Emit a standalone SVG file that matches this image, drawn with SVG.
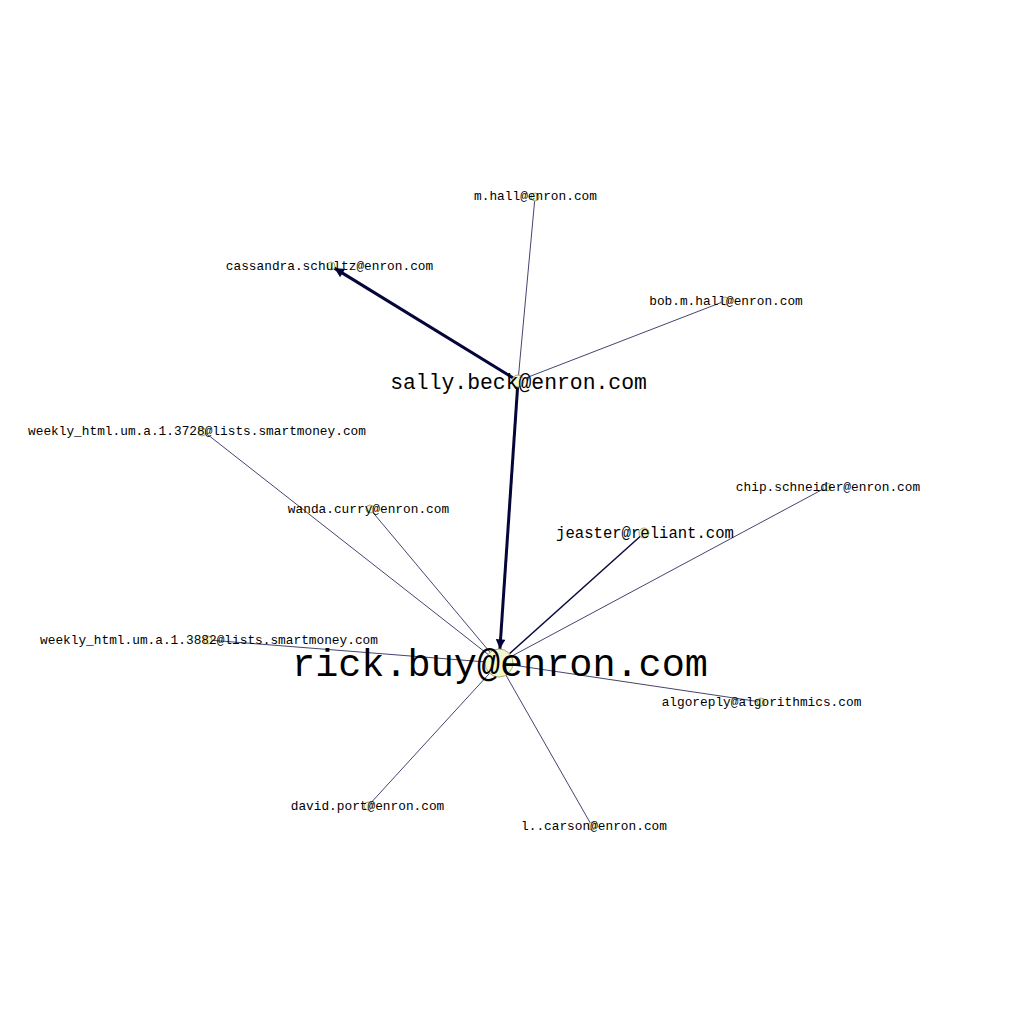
<svg xmlns="http://www.w3.org/2000/svg" width="1024" height="1024" viewBox="0 0 1024 1024">
<style>
.e{stroke:#14144a;stroke-width:0.8;fill:none}
.em{stroke:#0c0c40;stroke-width:1.5;fill:none}
.et{stroke:#05053a;stroke-width:3;fill:none}
.n{fill:#f4f8cf;stroke:#a8a870;stroke-width:1}
text{font-family:"Liberation Mono","Courier New",monospace;fill:#000;text-anchor:middle}
.s{font-size:12.8px}
</style>
<defs>
<marker id="arr" viewBox="0 0 10 10" refX="10" refY="5" markerWidth="4.2" markerHeight="3.2" orient="auto" markerUnits="strokeWidth">
<path d="M0,0 L10,5 L0,10 z" fill="#05053a"/>
</marker>
</defs>
<rect width="1024" height="1024" fill="#fff"/>
<g id="edges">
<line class="e" x1="518" y1="381" x2="535" y2="197"/>
<line class="e" x1="518" y1="381" x2="725" y2="301"/>
<line class="e" x1="499" y1="663" x2="203" y2="431"/>
<line class="e" x1="499" y1="663" x2="370" y2="509"/>
<line class="em" x1="499" y1="663" x2="644" y2="533"/>
<line class="e" x1="499" y1="663" x2="827" y2="487"/>
<line class="e" x1="499" y1="663" x2="208" y2="640"/>
<line class="e" x1="499" y1="663" x2="761" y2="702"/>
<line class="e" x1="499" y1="663" x2="368" y2="806"/>
<line class="e" x1="499" y1="663" x2="592" y2="826"/>
<line class="et" x1="518" y1="381" x2="334.4" y2="268.1" marker-end="url(#arr)"/>
<line class="et" x1="518" y1="381" x2="499.9" y2="649" marker-end="url(#arr)"/>
</g>
<g id="n-mhall"><circle class="n" cx="535" cy="197" r="4"/><text class="s" x="535.5" y="200">m.hall@enron.com</text></g>
<g id="n-cassandra"><circle class="n" cx="331" cy="266" r="4"/><text class="s" x="329.5" y="270">cassandra.schultz@enron.com</text></g>
<g id="n-bob"><circle class="n" cx="725" cy="301" r="4"/><text class="s" x="726" y="305">bob.m.hall@enron.com</text></g>
<g id="n-sally"><circle class="n" cx="518" cy="381" r="6"/><text x="518.5" y="389" style="font-size:21.4px">sally.beck@enron.com</text></g>
<g id="n-weekly3728"><circle class="n" cx="202" cy="432" r="4"/><text class="s" x="197" y="435">weekly_html.um.a.1.3728@lists.smartmoney.com</text></g>
<g id="n-chip"><circle class="n" cx="827" cy="487" r="4"/><text class="s" x="828" y="491">chip.schneider@enron.com</text></g>
<g id="n-wanda"><circle class="n" cx="370" cy="509" r="4"/><text class="s" x="368.5" y="513">wanda.curry@enron.com</text></g>
<g id="n-jeaster"><circle class="n" cx="644" cy="533" r="5"/><text x="645" y="538" style="font-size:15.6px">jeaster@reliant.com</text></g>
<g id="n-weekly3882"><circle class="n" cx="208" cy="640" r="4"/><text class="s" x="209" y="644">weekly_html.um.a.1.3882@lists.smartmoney.com</text></g>
<g id="n-rick"><circle class="n" cx="499" cy="663" r="14"/><text x="500" y="676" style="font-size:38.5px">rick.buy@enron.com</text></g>
<g id="n-algoreply"><circle class="n" cx="761" cy="702" r="4"/><text class="s" x="761.5" y="706">algoreply@algorithmics.com</text></g>
<g id="n-david"><circle class="n" cx="368" cy="806" r="4"/><text class="s" x="367.5" y="810">david.port@enron.com</text></g>
<g id="n-carson"><circle class="n" cx="592" cy="826" r="4"/><text class="s" x="594" y="830">l..carson@enron.com</text></g>
</svg>
